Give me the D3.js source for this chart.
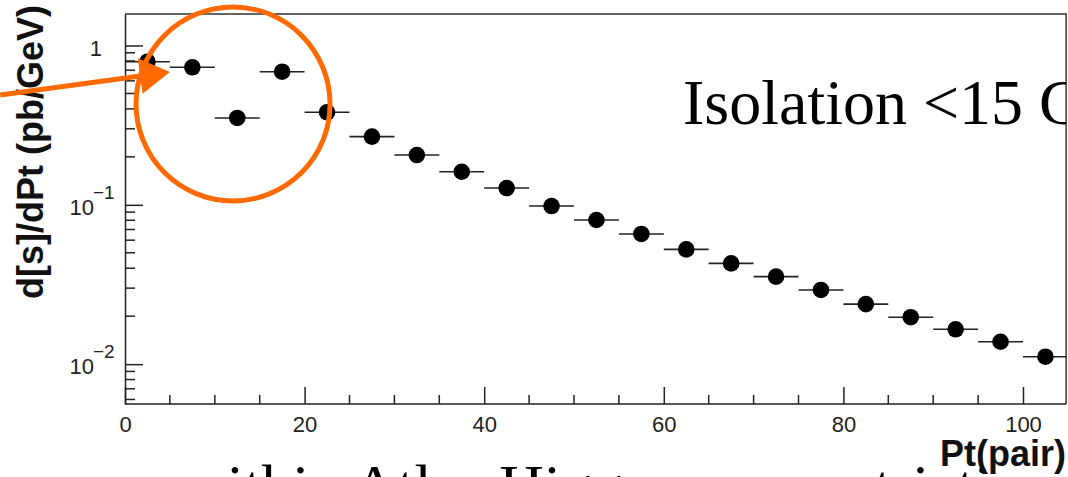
<!DOCTYPE html>
<html><head><meta charset="utf-8">
<script src="https://cdn.jsdelivr.net/npm/d3@7"></script>
<style>html,body{margin:0;padding:0;background:#fff;} svg{display:block;}</style>
</head><body>
<script>
// ---- data ----
const ptBins = [2.5, 7.5, 12.5, 17.5, 22.5, 27.5, 32.5, 37.5, 42.5, 47.5, 52.5, 57.5, 62.5, 67.5, 72.5, 77.5, 82.5, 87.5, 92.5, 97.5, 102.5];
const dsdpt  = [0.791, 0.730, 0.351, 0.685, 0.381, 0.268, 0.2054, 0.1613, 0.1275, 0.0983, 0.0803, 0.0656, 0.0525, 0.0429, 0.0354, 0.0292, 0.0238, 0.0197, 0.01654, 0.01382, 0.01113];
const binHalfWidth = 2.5;
const xTicksMajor = [0, 20, 40, 60, 80, 100];
const xTickLabels = ["0", "20", "40", "60", "80", "100"];
const yTicksMajor = [1, 0.1, 0.01];
const yTickBase = ["1", "10", "10"];
const yTickExp = ["", "\u22121", "\u22122"];
const xTitle = "Pt(pair)";
const yTitle = "d[s]/dPt (pb/GeV)";
const noteText = "Isolation <15 GeV";
const bottomText = "within Atlas Higgs mass restriction";
// annotation (data coords)
const ringCenter = [12.03, 0.4295];
const arrowFrom = [-13.9, 0.489];
const arrowTo = [5.0, 0.682];

const W = 1068, H = 477;
const svg = d3.select("body").append("svg").attr("width", W).attr("height", H);
svg.append("rect").attr("width", W).attr("height", H).attr("fill", "#fff");

const x = d3.scaleLinear().domain([0, 105]).range([125, 125 + 105 * 8.98]);
const y = d3.scaleLog().domain([0.00562, 1.577]).range([404, 14]);
const xMax = 104.8;

const defs = svg.append("defs");
defs.append("clipPath").attr("id", "clipR").append("rect").attr("x", 0).attr("y", 0).attr("width", x(xMax)).attr("height", H);

// frame
svg.append("path")
  .attr("d", `M${x(0)},${y.range()[1]}H${x(xMax)}V${y.range()[0]}`)
  .attr("fill", "none").attr("stroke", "#333").attr("stroke-width", 1.5);

// x axis
const xMinor = d3.range(0, 105, 5).filter(v => v % 20 !== 0);
const gx = svg.append("g").attr("transform", `translate(0,${y.range()[0]})`);
gx.call(d3.axisBottom(x).tickValues(xTicksMajor).tickSizeInner(-17).tickSizeOuter(0).tickPadding(12)
    .tickFormat((d, i) => xTickLabels[i]));
gx.selectAll(".minor").data(xMinor).enter().append("line").attr("class", "minor")
  .attr("x1", d => x(d)).attr("x2", d => x(d)).attr("y1", 0).attr("y2", -9);
gx.select(".domain").attr("d", `M${x(0)},0H${x(xMax)}`);
gx.selectAll("line").attr("stroke", "#222").attr("stroke-width", 1.5);
gx.select(".domain").attr("stroke", "#222").attr("stroke-width", 1.5);
gx.selectAll("text").attr("font-family", "Liberation Sans, Arial, sans-serif").attr("font-size", 22).attr("fill", "#222");

// y axis
const yMinor = [];
[0.001, 0.01, 0.1, 1].forEach(dec => { for (let k = 2; k <= 9; k++) { const v = dec * k; if (v > y.domain()[0] && v < y.domain()[1] && v !== 1 ) yMinor.push(v); } });
const gy = svg.append("g").attr("transform", `translate(${x(0)},0)`);
gy.call(d3.axisLeft(y).tickValues(yTicksMajor).tickSizeInner(-18).tickSizeOuter(0).tickFormat(""));
gy.selectAll(".minor").data(yMinor).enter().append("line").attr("class", "minor")
  .attr("x1", 0).attr("x2", 10).attr("y1", d => y(d)).attr("y2", d => y(d));
gy.selectAll("line").attr("stroke", "#222").attr("stroke-width", 1.5);
gy.select(".domain").attr("stroke", "#222").attr("stroke-width", 1.5);

const yl = svg.append("g").attr("font-family", "Liberation Sans, Arial, sans-serif").attr("fill", "#222");
yTicksMajor.forEach((v, i) => {
  if (yTickExp[i] === "") {
    yl.append("text").attr("x", 102).attr("y", y(v) + 10).attr("text-anchor", "end").attr("font-size", 22).text(yTickBase[i]);
  } else {
    yl.append("text").attr("x", 94).attr("y", y(v) + 10).attr("text-anchor", "end").attr("font-size", 22).text(yTickBase[i]);
    yl.append("text").attr("x", 93).attr("y", y(v) - 6).attr("text-anchor", "start").attr("font-size", 19).text(yTickExp[i]);
  }
});

// titles
svg.append("text").attr("transform", `translate(43,5) rotate(-90)`).attr("text-anchor", "end")
  .attr("font-family", "Liberation Sans, Arial, sans-serif").attr("font-weight", "bold").attr("font-size", 36)
  .attr("fill", "#111").text(yTitle);

// data: error bars + markers
const pts = ptBins.map((p, i) => ({ p, v: dsdpt[i] }));
const gd = svg.append("g");
gd.selectAll("line.err").data(pts).enter().append("line").attr("class", "err")
  .attr("x1", d => x(d.p - binHalfWidth)).attr("x2", d => x(Math.min(d.p + binHalfWidth, xMax)))
  .attr("y1", d => y(d.v)).attr("y2", d => y(d.v))
  .attr("stroke", "#222").attr("stroke-width", 1.6);
gd.selectAll("circle").data(pts).enter().append("circle")
  .attr("cx", d => x(d.p)).attr("cy", d => y(d.v)).attr("r", 8.3).attr("fill", "#000");

// note text
svg.append("text").attr("clip-path", "url(#clipR)").attr("x", 683).attr("y", 124)
  .attr("font-family", "Liberation Serif, Times New Roman, serif").attr("font-size", 64).attr("fill", "#000").text(noteText);

// bottom text (cut by page edge)
svg.append("text").attr("x", 182).attr("y", 507)
  .attr("font-family", "Liberation Serif, Times New Roman, serif").attr("font-size", 62).attr("fill", "#000").text(bottomText);

// x title
svg.append("text").attr("x", 1066).attr("y", 466).attr("text-anchor", "end")
  .attr("font-family", "Liberation Sans, Arial, sans-serif").attr("font-weight", "bold").attr("font-size", 36)
  .attr("fill", "#111").text(xTitle);

// orange annotation
const orange = "#ff6a00";
svg.append("circle").attr("cx", x(ringCenter[0])).attr("cy", y(ringCenter[1])).attr("r", 97)
  .attr("fill", "none").attr("stroke", orange).attr("stroke-width", 5);
const ax0 = x(arrowFrom[0]), ay0 = y(arrowFrom[1]), ax1 = x(arrowTo[0]), ay1 = y(arrowTo[1]);
const len = Math.hypot(ax1 - ax0, ay1 - ay0), ux = (ax1 - ax0) / len, uy = (ay1 - ay0) / len;
const bx = ax1 - 30 * ux, by = ay1 - 30 * uy, nx = -uy, ny = ux;
svg.append("line").attr("x1", ax0).attr("y1", ay0).attr("x2", bx + 2 * ux).attr("y2", by + 2 * uy)
  .attr("stroke", orange).attr("stroke-width", 5);
svg.append("polygon").attr("points", [[ax1, ay1], [bx + 18 * nx, by + 18 * ny], [bx - 18 * nx, by - 18 * ny]].map(p => p.join(",")).join(" "))
  .attr("fill", orange);
</script>
</body></html>
